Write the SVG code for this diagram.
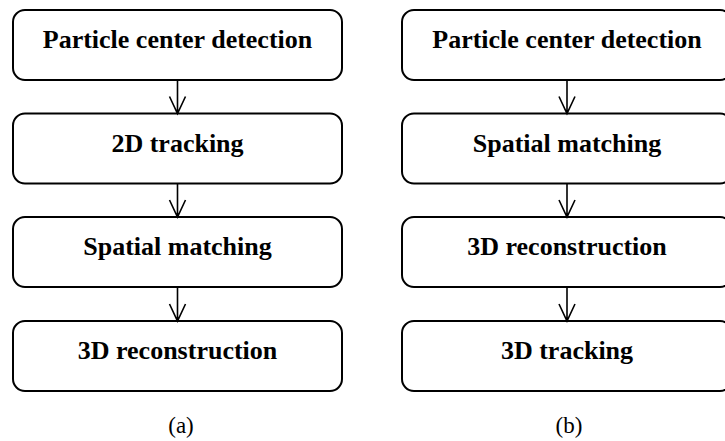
<svg xmlns="http://www.w3.org/2000/svg" width="725" height="441" viewBox="0 0 725 441">
<style>
.box{fill:#fff;stroke:#000;stroke-width:2}
.t{font-family:'Liberation Serif',serif;font-weight:700;font-size:26px;text-anchor:middle;fill:#000}
.cap{font-family:'Liberation Serif',serif;font-size:23px;text-anchor:middle;fill:#000}
.c{stroke:#000;stroke-width:1.6;fill:none}
</style>
<rect width="725" height="441" fill="#fff"/>
<g id="a1"><rect class="box" x="13" y="10" width="329" height="70" rx="12"/><text class="t" x="177.5" y="48">Particle center detection</text></g>
<g id="a2"><rect class="box" x="13" y="113.5" width="329" height="70" rx="12"/><text class="t" x="177.5" y="152">2D tracking</text></g>
<g id="a3"><rect class="box" x="13" y="217" width="329" height="70" rx="12"/><text class="t" x="177.5" y="255">Spatial matching</text></g>
<g id="a4"><rect class="box" x="13" y="321" width="329" height="70" rx="12"/><text class="t" x="177.5" y="359">3D reconstruction</text></g>
<g id="b1"><rect class="box" x="402" y="10" width="330" height="70" rx="12"/><text class="t" x="567" y="48">Particle center detection</text></g>
<g id="b2"><rect class="box" x="402" y="113.5" width="330" height="70" rx="12"/><text class="t" x="567" y="152">Spatial matching</text></g>
<g id="b3"><rect class="box" x="402" y="217" width="330" height="70" rx="12"/><text class="t" x="567" y="255">3D reconstruction</text></g>
<g id="b4"><rect class="box" x="402" y="321" width="330" height="70" rx="12"/><text class="t" x="567" y="359">3D tracking</text></g>
<g id="connectors">
<path class="c" d="M177.5,80 V113.5 M169.5,96.5 L177.5,113.5 L185.5,96.5"/>
<path class="c" d="M177.5,183.5 V217 M169.5,200 L177.5,217 L185.5,200"/>
<path class="c" d="M177.5,287 V321 M169.5,304 L177.5,321 L185.5,304"/>
<path class="c" d="M567,80 V113.5 M559,96.5 L567,113.5 L575,96.5"/>
<path class="c" d="M567,183.5 V217 M559,200 L567,217 L575,200"/>
<path class="c" d="M567,287 V321 M559,304 L567,321 L575,304"/>
</g>
<text class="cap" x="181" y="433">(a)</text>
<text class="cap" x="569" y="433">(b)</text>
</svg>
